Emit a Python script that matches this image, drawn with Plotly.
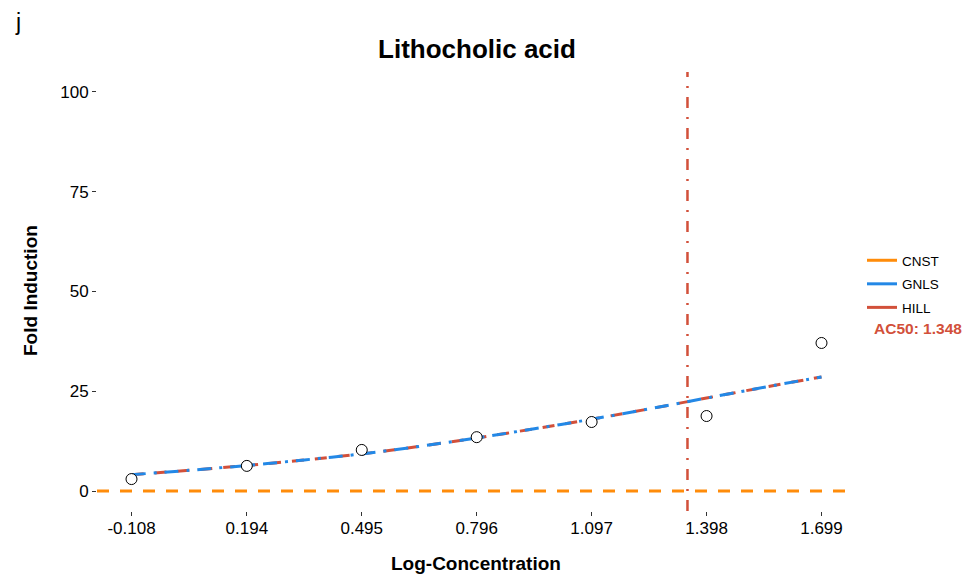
import plotly.graph_objects as go

# Observed responses
log_conc = [-0.108, 0.194, 0.495, 0.796, 1.097, 1.398, 1.699]
fold_induction = [3.0, 6.3, 10.3, 13.5, 17.3, 18.8, 37.1]

# Fitted curves (GNLS and HILL overlap)
curve_x = [-0.108, 0.043, 0.194, 0.345, 0.495, 0.646, 0.796, 0.947, 1.097, 1.248, 1.398, 1.549, 1.699]
hill_y = [4.1, 5.2, 6.4, 7.8, 9.3, 11.2, 13.3, 15.6, 18.0, 20.6, 23.3, 26.0, 28.6]
gnls_y = [4.1, 5.2, 6.4, 7.8, 9.3, 11.2, 13.3, 15.6, 18.0, 20.6, 23.3, 26.0, 28.6]

# Constant model
cnst_y = 0.0
ac50 = 1.348

x_ticks = [-0.108, 0.194, 0.495, 0.796, 1.097, 1.398, 1.699]
x_tick_labels = ["-0.108", "0.194", "0.495", "0.796", "1.097", "1.398", "1.699"]
y_ticks = [0, 25, 50, 75, 100]

ORANGE = "#FF8C0A"
BLUE = "#2388E6"
RED = "#D2503A"
FONT = "Liberation Sans, Arial, sans-serif"

W, H = 972, 579
ML, MR, MT, MB = 97, 116, 72, 68
PW, PH = W - ML - MR, H - MT - MB


def px(xp):
    return (xp - ML) / PW


def py(yp):
    return (H - MB - yp) / PH


x_lo = min(log_conc) - 0.05 * (max(log_conc) - min(log_conc))
x_hi = max(log_conc) + 0.05 * (max(log_conc) - min(log_conc))

fig = go.Figure()

# CNST horizontal line
fig.add_trace(go.Scatter(
    x=[x_lo, x_hi], y=[cnst_y, cnst_y], mode="lines",
    line=dict(color=ORANGE, width=3, dash="12px,11px"),
    showlegend=False, hoverinfo="skip", cliponaxis=False))

# HILL curve
fig.add_trace(go.Scatter(
    x=curve_x, y=hill_y, mode="lines", line_shape="spline",
    line=dict(color=RED, width=3, dash="12px,11px"),
    showlegend=False))

# GNLS curve
fig.add_trace(go.Scatter(
    x=curve_x, y=gnls_y, mode="lines", line_shape="spline",
    line=dict(color=BLUE, width=3, dash="14px,8px,3px,8px"),
    showlegend=False))

# AC50 vertical line
fig.add_trace(go.Scatter(
    x=[ac50, ac50], y=[-5, 105], mode="lines",
    line=dict(color=RED, width=2.5, dash="11px,9px,2px,9px"),
    showlegend=False, hoverinfo="skip"))

# Data points
fig.add_trace(go.Scatter(
    x=log_conc, y=fold_induction, mode="markers",
    marker=dict(symbol="circle", size=11, color="white",
                line=dict(color="black", width=1)),
    showlegend=False))

# Legend entries with solid keys
for name, col in [("CNST", ORANGE), ("GNLS", BLUE), ("HILL", RED)]:
    fig.add_trace(go.Scatter(
        x=[None], y=[None], mode="lines", name=name, legendgroup=name,
        line=dict(color=col, width=3)))

fig.add_annotation(
    x=px(872), y=py(328), xref="paper", yref="paper", text="<b>AC50: 1.348</b>",
    showarrow=False, xanchor="left", yanchor="middle",
    font=dict(family=FONT, size=15.5, color=RED))

fig.add_annotation(
    x=px(18), y=py(22), xref="paper", yref="paper", text="j", showarrow=False,
    xanchor="center", yanchor="middle",
    font=dict(family=FONT, size=23, color="black"))

# Axis titles
fig.add_annotation(
    x=px(476), y=py(563), xref="paper", yref="paper",
    text="<b>Log-Concentration</b>", showarrow=False,
    xanchor="center", yanchor="middle",
    font=dict(family=FONT, size=19, color="black"))

fig.add_annotation(
    x=px(30), y=py(291), xref="paper", yref="paper",
    text="<b>Fold Induction</b>", showarrow=False, textangle=-90,
    xanchor="center", yanchor="middle",
    font=dict(family=FONT, size=19, color="black"))

fig.update_layout(
    width=W, height=H,
    margin=dict(l=ML, r=MR, t=MT, b=MB, autoexpand=False),
    paper_bgcolor="white", plot_bgcolor="white",
    title=dict(text="<b>Lithocholic acid</b>", x=477 / W, xanchor="center",
               y=1 - 49 / H, yanchor="middle",
               font=dict(family=FONT, size=26, color="black")),
    font=dict(family=FONT, color="black"),
    legend=dict(x=px(862), xanchor="left", y=py(284), yanchor="middle",
                font=dict(family=FONT, size=13.5, color="black"),
                tracegroupgap=3, bgcolor="rgba(0,0,0,0)"),
    xaxis=dict(range=[x_lo, x_hi], tickvals=x_ticks, ticktext=x_tick_labels,
               showgrid=False, zeroline=False, showline=False, automargin=False,
               ticks="outside", ticklen=4, tickcolor="#333333",
               ticklabelstandoff=-2,
               tickfont=dict(family=FONT, size=17, color="black")),
    yaxis=dict(range=[-5, 105], tickvals=y_ticks,
               showgrid=False, zeroline=False, showline=False, automargin=False,
               ticks="outside", ticklen=4, tickcolor="#333333",
               tickfont=dict(family=FONT, size=17, color="black")),
)

fig.write_html("out.html")
